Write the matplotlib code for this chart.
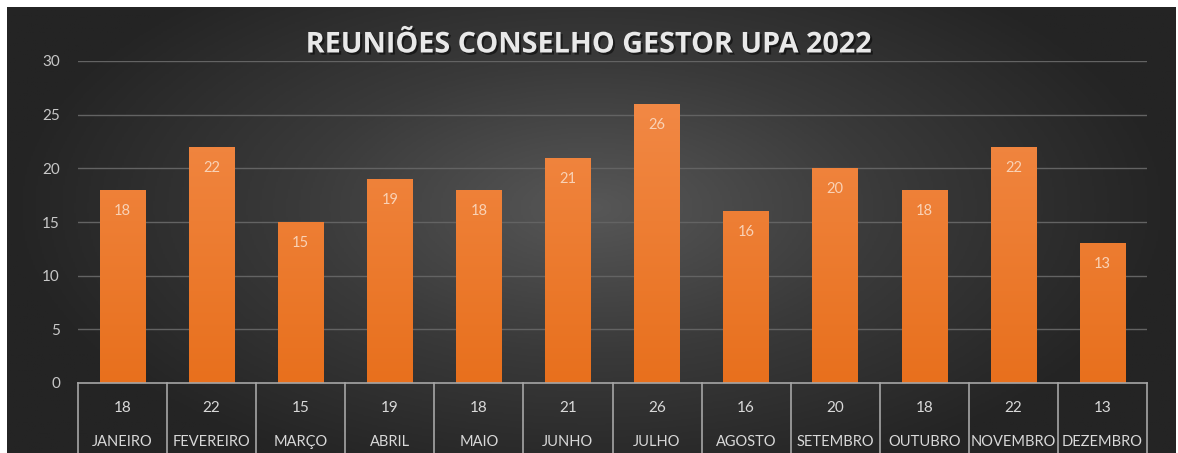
import matplotlib
matplotlib.use("Agg")
import matplotlib.pyplot as plt
import matplotlib.patheffects as pe
from matplotlib.colors import LinearSegmentedColormap
import numpy as np

months = ["JANEIRO", "FEVEREIRO", "MARÇO", "ABRIL", "MAIO", "JUNHO",
          "JULHO", "AGOSTO", "SETEMBRO", "OUTUBRO", "NOVEMBRO", "DEZEMBRO"]
meetings = [18, 22, 15, 19, 18, 21, 26, 16, 20, 18, 22, 13]
y_ticks = [0, 5, 10, 15, 20, 25, 30]
title = "REUNIÕES CONSELHO GESTOR UPA 2022"

W, H = 1178, 453
fig = plt.figure(figsize=(W / 100, H / 100), dpi=100, facecolor="white")

# dark radial background
bg = fig.add_axes([7 / W, 0, (1176 - 7) / W, (H - 7) / H])
bg.set_axis_off()
xx, yy = np.meshgrid(np.linspace(-1, 1, 600), np.linspace(-1, 1, 240))
r = np.sqrt(((xx - 0.0) / 1.0) ** 2 + ((yy + 0.1) / 1.3) ** 2)
bg_cmap = LinearSegmentedColormap.from_list("bg", ["#575757", "#3a3a3a", "#242424"])
bg.imshow(np.clip(r, 0, 1), cmap=bg_cmap, aspect="auto", extent=[0, 1, 0, 1],
          vmin=0, vmax=1)
bg.set_xlim(0, 1)
bg.set_ylim(0, 1)

ax = fig.add_axes([78 / W, (H - 383) / H, (1147 - 78) / W, (383 - 61) / H])
ax.patch.set_alpha(0)
x = np.arange(len(months))
ax.set_xlim(-0.5, len(months) - 0.5)
ax.set_ylim(0, 30)

for t in y_ticks[1:]:
    ax.axhline(t, color="#636363", lw=1, zorder=1)

bars = ax.bar(x, meetings, width=0.51, color="none", zorder=2)
bar_cmap = LinearSegmentedColormap.from_list("bar", ["#e8701d", "#f38c4b"])
grad = np.linspace(0, 1, 256).reshape(-1, 1)
for b, v in zip(bars, meetings):
    im = ax.imshow(grad, cmap=bar_cmap, origin="lower", aspect="auto",
                   extent=[b.get_x(), b.get_x() + b.get_width(), 0, 30],
                   zorder=2)
    im.set_clip_path(b)
    ax.text(b.get_x() + b.get_width() / 2, v - 1.95, str(v), ha="center",
            va="center", color="#f9d2b6", fontsize=10.5, family="Lato",
            zorder=3)

ax.set_xticks([])
ax.set_yticks(y_ticks)
ax.tick_params(axis="y", length=0, pad=13, labelcolor="#c8c8c8", labelsize=11)
for lab in ax.get_yticklabels():
    lab.set_family("Lato")
for s in ax.spines.values():
    s.set_visible(False)

# data table below the axis
tr = ax.get_xaxis_transform()
line_c = "#a6a6a6"
ax.plot([-0.5, len(months) - 0.5], [0, 0], color=line_c, lw=1.2,
        transform=tr, clip_on=False, zorder=4)
for i in range(len(months) + 1):
    ax.plot([i - 0.5, i - 0.5], [0, -0.3], color=line_c, lw=1.2,
            transform=tr, clip_on=False, zorder=4)
for i, (m, v) in enumerate(zip(months, meetings)):
    ax.text(i, -25 / 322, str(v), transform=tr, ha="center", va="center",
            color="#d9d9d9", fontsize=11, family="Lato")
    ax.text(i, -59 / 322, m, transform=tr, ha="center", va="center",
            color="#d9d9d9", fontsize=10.5, family="Lato")

fig.text(0.5, (H - 45) / H, title, ha="center", va="center",
         color="#e9e9e9", fontsize=20.7, family="Open Sans", weight="bold",
         path_effects=[pe.withSimplePatchShadow(offset=(1.5, -1.5),
                                                shadow_rgbFace="black",
                                                alpha=0.5)])

fig.savefig("out.png", dpi=100, facecolor="white")
